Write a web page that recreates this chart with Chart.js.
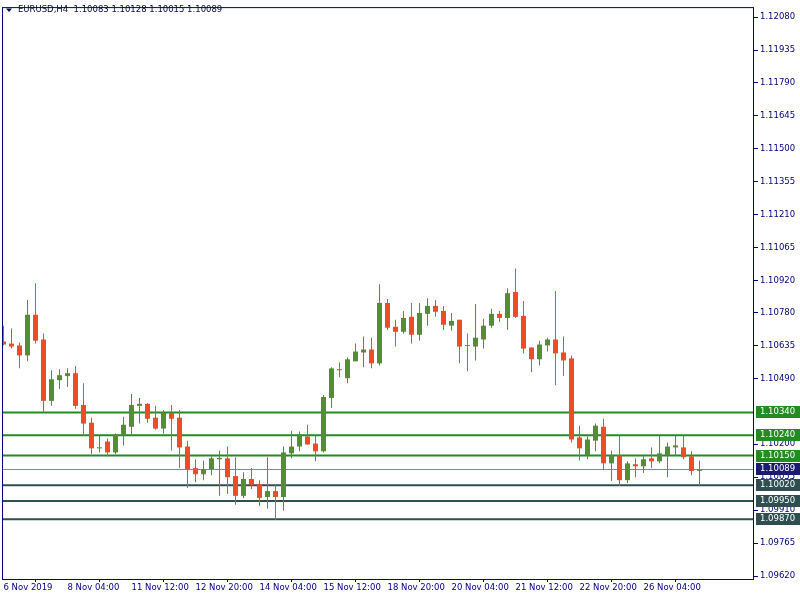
<!DOCTYPE html>
<html>
<head>
<meta charset="utf-8">
<script src="https://cdn.jsdelivr.net/npm/chart.js@4.4.1/dist/chart.umd.min.js"></script>
<style>
  html, body { margin: 0; padding: 0; background: #fff; }
</style>
</head>
<body>
<canvas id="chart" width="800" height="600"></canvas>
<script>
// EURUSD H4 candles
const openPrices = [
  1.10652, 1.10643, 1.10635, 1.10591, 1.10770, 1.10661, 1.10391, 1.10482, 1.10500, 1.10513,
  1.10373, 1.10295, 1.10182, 1.10212, 1.10164, 1.10238, 1.10277, 1.10369, 1.10378, 1.10317,
  1.10269, 1.10338, 1.10317, 1.10190, 1.10095, 1.10068, 1.10090, 1.10134, 1.10138, 1.10060,
  1.09973, 1.10047, 1.10025, 1.09968, 1.09994, 1.09968, 1.10160, 1.10190, 1.10234, 1.10203,
  1.10169, 1.10404, 1.10530, 1.10491, 1.10565, 1.10604, 1.10617, 1.10556, 1.10822, 1.10717,
  1.10695, 1.10761, 1.10682, 1.10774, 1.10809, 1.10787, 1.10722, 1.10748, 1.10635, 1.10630,
  1.10661, 1.10722, 1.10774, 1.10756, 1.10870, 1.10765, 1.10626, 1.10574, 1.10635, 1.10661,
  1.10604, 1.10578, 1.10230, 1.10151, 1.10216, 1.10277, 1.10116, 1.10151, 1.10042, 1.10112,
  1.10103, 1.10138, 1.10125, 1.10151, 1.10186, 1.10186, 1.10147, 1.10083
];
const highPrices = [
  1.10722, 1.10709, 1.10648, 1.10835, 1.10909, 1.10687, 1.10526, 1.10530, 1.10534, 1.10543,
  1.10469, 1.10317, 1.10238, 1.10225, 1.10247, 1.10321, 1.10421, 1.10404, 1.10382, 1.10369,
  1.10351, 1.10373, 1.10351, 1.10216, 1.10134, 1.10129, 1.10147, 1.10173, 1.10190, 1.10143,
  1.10077, 1.10095, 1.10042, 1.10143, 1.10021, 1.10190, 1.10260, 1.10256, 1.10286, 1.10238,
  1.10417, 1.10539, 1.10561, 1.10582, 1.10643, 1.10674, 1.10669, 1.10904, 1.10839, 1.10748,
  1.10787, 1.10822, 1.10822, 1.10843, 1.10835, 1.10809, 1.10778, 1.10748, 1.10687, 1.10817,
  1.10752, 1.10796, 1.10787, 1.10887, 1.10974, 1.10830, 1.10626, 1.10656, 1.10669, 1.10874,
  1.10674, 1.10591, 1.10282, 1.10234, 1.10291, 1.10312, 1.10173, 1.10238, 1.10125, 1.10138,
  1.10147, 1.10186, 1.10238, 1.10208, 1.10238, 1.10238, 1.10169, 1.10128
];
const lowPrices = [
  1.10635, 1.10621, 1.10534, 1.10565, 1.10643, 1.10343, 1.10369, 1.10443, 1.10452, 1.10356,
  1.10243, 1.10156, 1.10164, 1.10147, 1.10156, 1.10195, 1.10243, 1.10291, 1.10295, 1.10264,
  1.10247, 1.10173, 1.10095, 1.10008, 1.10034, 1.10042, 1.10064, 1.09973, 1.09981, 1.09934,
  1.09964, 1.10003, 1.09929, 1.09916, 1.09868, 1.09907, 1.10138, 1.10169, 1.10199, 1.10125,
  1.10164, 1.10360, 1.10495, 1.10469, 1.10565, 1.10539, 1.10534, 1.10547, 1.10704, 1.10630,
  1.10687, 1.10643, 1.10656, 1.10722, 1.10761, 1.10704, 1.10700, 1.10556, 1.10521, 1.10569,
  1.10621, 1.10713, 1.10739, 1.10704, 1.10756, 1.10600, 1.10517, 1.10547, 1.10608, 1.10460,
  1.10500, 1.10208, 1.10129, 1.10134, 1.10169, 1.10086, 1.10038, 1.10016, 1.10029, 1.10055,
  1.10073, 1.10095, 1.10116, 1.10055, 1.10151, 1.10134, 1.10064, 1.10015
];
const closePrices = [
  1.10639, 1.10630, 1.10591, 1.10770, 1.10656, 1.10391, 1.10486, 1.10504, 1.10513, 1.10369,
  1.10291, 1.10182, 1.10186, 1.10164, 1.10243, 1.10286, 1.10373, 1.10378, 1.10312, 1.10269,
  1.10338, 1.10312, 1.10186, 1.10090, 1.10068, 1.10090, 1.10138, 1.10140, 1.10055, 1.09973,
  1.10047, 1.10021, 1.09964, 1.09994, 1.09968, 1.10164, 1.10190, 1.10243, 1.10199, 1.10169,
  1.10408, 1.10534, 1.10526, 1.10574, 1.10608, 1.10617, 1.10556, 1.10822, 1.10713, 1.10695,
  1.10756, 1.10682, 1.10778, 1.10809, 1.10783, 1.10726, 1.10743, 1.10630, 1.10632, 1.10669,
  1.10722, 1.10774, 1.10756, 1.10865, 1.10761, 1.10621, 1.10574, 1.10639, 1.10661, 1.10600,
  1.10569, 1.10221, 1.10182, 1.10221, 1.10282, 1.10116, 1.10151, 1.10042, 1.10116, 1.10103,
  1.10134, 1.10125, 1.10160, 1.10190, 1.10195, 1.10143, 1.10082, 1.10089
];

const timeTickIndex = [0, 8, 16, 24, 32, 40, 48, 56, 64, 72, 80];
const timeTickLabels = [
  '6 Nov 2019', '8 Nov 04:00', '11 Nov 12:00', '12 Nov 20:00', '14 Nov 04:00', '15 Nov 12:00',
  '18 Nov 20:00', '20 Nov 04:00', '21 Nov 12:00', '22 Nov 20:00', '26 Nov 04:00'
];
const priceTicks = [
  1.12080, 1.11935, 1.11790, 1.11645, 1.11500, 1.11355, 1.11210, 1.11065, 1.10920,
  1.10780, 1.10635, 1.10490, 1.10200, 1.10055, 1.09910, 1.09765, 1.09620
];
const resistanceLevels = [1.10340, 1.10240, 1.10150];
const supportLevels = [1.10020, 1.09950, 1.09870];
const symbolName = 'EURUSD,H4';

const BULL = '#568d2f';
const BEAR = '#f04b23';
const AXIS = '#000080';
const LEVEL_GREEN = '#228b22';
const LEVEL_DARK = '#2f4f4f';
const PRICE_LINE = '#778899';
const PRICE_BOX = '#1a1a6e';
const FONT = "8.5px 'DejaVu Sans'";

// 8 px per candle, first candle centred at x=3.5
const X_MIN = -0.1875;
const X_MAX = X_MIN + 752 / 8;
const Y_MIN = 1.09607;
const Y_MAX = 1.12124;

Chart.defaults.font.family = "'DejaVu Sans', sans-serif";
Chart.defaults.font.size = 8.5;

const last = openPrices.length - 1;
const lastPrice = closePrices[last];
const candleColors = openPrices.map((o, i) => (closePrices[i] >= o ? BULL : BEAR));

const levelDataset = (value, color, width) => ({
  type: 'line',
  data: [{ x: X_MIN, y: value }, { x: X_MAX, y: value }],
  borderColor: color,
  borderWidth: width,
  pointRadius: 0,
  order: 3
});

const datasets = [
  ...resistanceLevels.map((v) => levelDataset(v, LEVEL_GREEN, 2)),
  ...supportLevels.map((v) => levelDataset(v, LEVEL_DARK, 2)),
  levelDataset(lastPrice, PRICE_LINE, 1),
  {
    type: 'bar',
    data: openPrices.map((_, i) => ({ x: i, y: [lowPrices[i], highPrices[i]] })),
    backgroundColor: candleColors,
    barThickness: 1,
    grouped: false,
    inflateAmount: 0,
    borderWidth: 0,
    order: 2
  },
  {
    type: 'bar',
    data: openPrices.map((o, i) => ({ x: i, y: [o, closePrices[i]] })),
    backgroundColor: candleColors,
    barThickness: 5,
    minBarLength: 1,
    grouped: false,
    inflateAmount: 0,
    borderWidth: 0,
    order: 1
  }
];

const mt4Overlay = {
  id: 'mt4Overlay',
  afterDraw(chart) {
    const { ctx, chartArea: a, scales: { y } } = chart;
    ctx.save();

    // frame round the plot
    ctx.strokeStyle = AXIS;
    ctx.lineWidth = 1;
    ctx.strokeRect(a.left + 0.5, a.top + 0.5, a.right - a.left - 1, a.bottom - a.top);

    // price boxes on the right axis
    const box = (value, color) => {
      const py = Math.round(y.getPixelForValue(value));
      ctx.fillStyle = color;
      ctx.fillRect(a.right + 2, py - 6, 800 - a.right - 2, 12);
      ctx.fillStyle = '#ffffff';
      ctx.textBaseline = 'middle';
      ctx.textAlign = 'left';
      ctx.font = FONT;
      ctx.fillText(value.toFixed(5), a.right + 6, py);
    };
    resistanceLevels.forEach((v) => box(v, LEVEL_GREEN));
    supportLevels.forEach((v) => box(v, LEVEL_DARK));
    box(lastPrice, PRICE_BOX);

    // header line
    ctx.fillStyle = '#0a0a40';
    ctx.beginPath();
    ctx.moveTo(6, 8.5);
    ctx.lineTo(12, 8.5);
    ctx.lineTo(9, 12);
    ctx.closePath();
    ctx.fill();
    const quote = [openPrices[last], highPrices[last], lowPrices[last], closePrices[last]]
      .map((v) => v.toFixed(5)).join(' ');
    ctx.font = FONT;
    ctx.textBaseline = 'middle';
    ctx.fillText(symbolName + '  ' + quote, 18, 10);
    ctx.restore();
  }
};

new Chart(document.getElementById('chart'), {
  type: 'bar',
  data: { datasets },
  options: {
    responsive: false,
    devicePixelRatio: 1,
    animation: false,
    layout: { padding: { left: 2, top: 1, right: 0, bottom: 0 } },
    plugins: { legend: { display: false }, tooltip: { enabled: false } },
    scales: {
      x: {
        type: 'linear',
        min: X_MIN,
        max: X_MAX,
        offset: false,
        afterBuildTicks: (s) => { s.ticks = timeTickIndex.map((v) => ({ value: v })); },
        afterFit: (s) => { s.height = 21; },
        grid: { drawOnChartArea: false, drawTicks: true, tickLength: 3, color: AXIS },
        border: { display: false },
        ticks: {
          autoSkip: false,
          maxRotation: 0,
          align: 'start',
          padding: 1,
          color: AXIS,
          callback: (v, i) => timeTickLabels[i]
        }
      },
      y: {
        position: 'right',
        min: Y_MIN,
        max: Y_MAX,
        afterBuildTicks: (s) => { s.ticks = priceTicks.map((v) => ({ value: v })); },
        afterFit: (s) => { s.width = 46; },
        grid: { drawOnChartArea: false, drawTicks: true, tickLength: 4, color: AXIS },
        border: { display: false },
        ticks: {
          autoSkip: false,
          padding: 2,
          color: AXIS,
          callback: (v) => v.toFixed(5)
        }
      }
    }
  },
  plugins: [mt4Overlay]
});
</script>
</body>
</html>
